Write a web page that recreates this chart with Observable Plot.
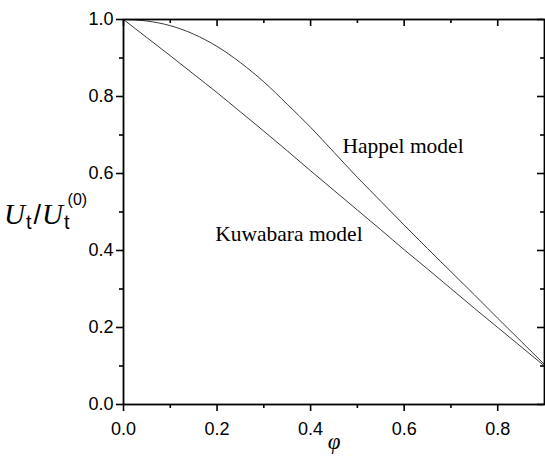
<!DOCTYPE html>
<html><head><meta charset="utf-8">
<script src="https://cdn.jsdelivr.net/npm/d3@7"></script>
<script src="https://cdn.jsdelivr.net/npm/@observablehq/plot@0.6"></script>
<style>
body{margin:0;background:#fff;}
#chart{width:545px;height:463px;}
#chart svg{display:block;}
#chart g[aria-label="x-axis label"] text{font-family:"Liberation Serif","Times New Roman",serif;font-style:italic;font-size:23px;}
</style></head><body><div id="chart"></div>
<script>
const phi      = [0, 0.05, 0.1, 0.15, 0.2, 0.25, 0.3, 0.35, 0.4, 0.45, 0.5, 0.55, 0.6, 0.65, 0.7, 0.75, 0.8, 0.85, 0.9];
const happel   = [1.0, 0.996, 0.984, 0.962, 0.930, 0.888, 0.838, 0.780, 0.720, 0.655, 0.590, 0.528, 0.466, 0.405, 0.345, 0.285, 0.224, 0.164, 0.104];
const kuwabara = [1.0, 0.953, 0.906, 0.858, 0.810, 0.760, 0.710, 0.659, 0.607, 0.556, 0.505, 0.454, 0.402, 0.352, 0.301, 0.250, 0.200, 0.150, 0.100];
const xMajor = [0, 0.2, 0.4, 0.6, 0.8];
const xMinor = [0.1, 0.3, 0.5, 0.7];
const yMajor = [0, 0.2, 0.4, 0.6, 0.8, 1.0];
const yMinor = [0.1, 0.3, 0.5, 0.7, 0.9];
const labelText = ["Happel model", "Kuwabara model"];
const labelPhi  = [0.468, 0.196];
const labelU    = [0.654, 0.4255];

const W = 545, H = 463, mL = 123, mR = 1, mT = 19, mB = 59;
const innerW = W - mL - mR, innerH = H - mT - mB;

const rows = phi.flatMap((p, i) => [
  {phi: p, u: happel[i], model: "Happel"},
  {phi: p, u: kuwabara[i], model: "Kuwabara"}
]);
const labels = labelText.map((t, i) => ({t, phi: labelPhi[i], u: labelU[i]}));

const tickStyle = {stroke: "black", strokeWidth: 1.6};
const plot = Plot.plot({
  width: W, height: H,
  marginLeft: mL, marginRight: mR, marginTop: mT, marginBottom: mB,
  style: {fontFamily: "'Liberation Sans', Arial, sans-serif", fontSize: "18px", color: "black", background: "white"},
  x: {domain: [0, 0.9], label: "φ"},
  y: {domain: [0, 1.0], label: null},
  marks: [
    Plot.axisX({ticks: xMajor, tickSize: 7, tickPadding: 11, tickFormat: d3.format(".1f"), ...tickStyle,
                label: "φ", labelAnchor: "center", labelArrow: "none", labelOffset: 44}),
    Plot.axisX({ticks: xMinor, tickSize: 4, tickFormat: () => "", label: null, ...tickStyle}),
    Plot.axisY({ticks: yMajor, tickSize: 7, tickPadding: 3, tickFormat: d3.format(".1f"), label: null, ...tickStyle}),
    Plot.axisY({ticks: yMinor, tickSize: 4, tickFormat: () => "", label: null, ...tickStyle}),
    Plot.ruleX(xMajor, {x: d => d, insetBottom: innerH - 7, ...tickStyle}),
    Plot.ruleX(xMinor, {x: d => d, insetBottom: innerH - 4, ...tickStyle}),
    Plot.ruleY(yMajor, {y: d => d, insetLeft: innerW - 7, ...tickStyle}),
    Plot.ruleY(yMinor, {y: d => d, insetLeft: innerW - 4, ...tickStyle}),
    Plot.line(rows, {x: "phi", y: "u", z: "model", stroke: "#3a3a3a", strokeWidth: 1, curve: "monotone-x"}),
    Plot.text(labels, {x: "phi", y: "u", text: "t", textAnchor: "start", lineAnchor: "bottom",
                       fontFamily: "'Liberation Serif','Times New Roman',serif", fontSize: 21.5, fill: "black"}),
    Plot.frame({stroke: "black", strokeWidth: 1.8})
  ]
});
document.getElementById("chart").appendChild(plot);

// y-axis label: U_t / U_t^(0)
const svg = d3.select(plot);
const lab = svg.append("text").attr("x", 4).attr("y", 224).attr("fill", "black").attr("text-anchor", "start");
const serifI = {"font-family": "'Liberation Serif','Times New Roman',serif", "font-style": "italic", "font-size": "29px"};
const sans = {"font-family": "'Liberation Sans',Arial,sans-serif", "font-style": "normal"};
function span(txt, attrs, extra) {
  const s = lab.append("tspan").text(txt);
  Object.entries(attrs).forEach(([k, v]) => s.attr(k, v));
  Object.entries(extra || {}).forEach(([k, v]) => s.attr(k, v));
  return s;
}
span("U", serifI);
span("t", sans, {"font-size": "20px", dy: 5, dx: 1});
span("/", sans, {"font-size": "27px", dy: -5, dx: 2});
span("U", serifI, {dx: 1});
span("t", sans, {"font-size": "20px", dy: 5, dx: 1});
span("(0)", sans, {"font-size": "16px", dy: -24, dx: -2});
</script></body></html>
